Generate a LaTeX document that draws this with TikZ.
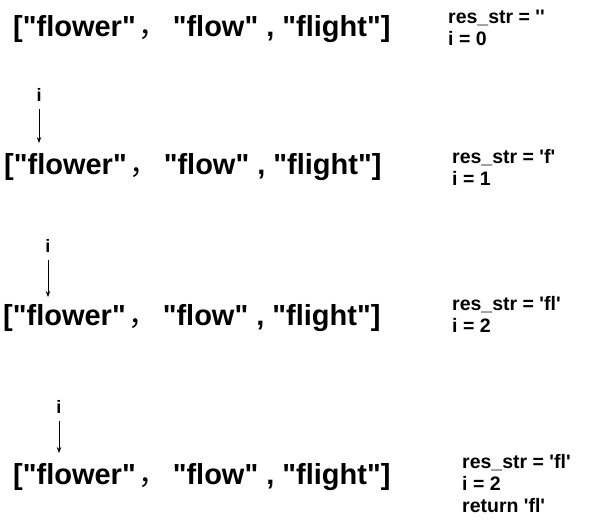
\documentclass[tikz,border=0pt]{standalone}
\usepackage{fontspec}
\setmainfont{Liberation Sans}[Ligatures=TeXOff]
\newfontfamily\cjkfont{Noto Sans CJK SC}
\usepackage{tikz}
\usetikzlibrary{arrows.meta, positioning}
\newcommand{\wordlist}{["flower"\kern3pt{\cjkfont\mdseries ，}\kern-3pt\ "flow" , "flight"]}

\begin{document}
\begin{tikzpicture}[
    x=1pt, y=-1pt,
    words/.style={anchor=base west, inner sep=0pt, font=\fontsize{29}{34}\selectfont\bfseries},
    state/.style={anchor=north west, inner sep=0pt, align=left, font=\fontsize{19.5}{22}\selectfont\bfseries},
    idx/.style={inner sep=0pt, font=\fontsize{18}{20}\selectfont\bfseries},
    ptr/.style={-{Stealth[length=6pt, width=4.5pt]}, line width=0.8pt, shorten <=7pt}
  ]
    \useasboundingbox (0,0) rectangle (592,523);

    % Step 0
    \node[words] (list0) at (13, 36) {\wordlist};
    \node[state] (st0) at (448, 10) {res\_str = ''\\i = 0};

    % Step 1
    \node[idx] (i1) at (39, 95) {i};
    \coordinate (p1) at (39, 143);
    \node[words] (list1) at (4, 174) {\wordlist};
    \node[state] (st1) at (452, 149) {res\_str = 'f'\\i = 1};
    \draw[ptr] (i1) -- (p1);

    % Step 2
    \node[idx] (i2) at (48, 246) {i};
    \coordinate (p2) at (48, 297);
    \node[words] (list2) at (3, 325) {\wordlist};
    \node[state] (st2) at (452, 296) {res\_str = 'fl'\\i = 2};
    \draw[ptr] (i2) -- (p2);

    % Step 3 (return)
    \node[idx] (i3) at (59, 407) {i};
    \coordinate (p3) at (59, 453);
    \node[words] (list3) at (13, 484) {\wordlist};
    \node[state] (st3) at (462, 454) {res\_str = 'fl'\\i = 2\\return 'fl'};
    \draw[ptr] (i3) -- (p3);
\end{tikzpicture}
\end{document}
